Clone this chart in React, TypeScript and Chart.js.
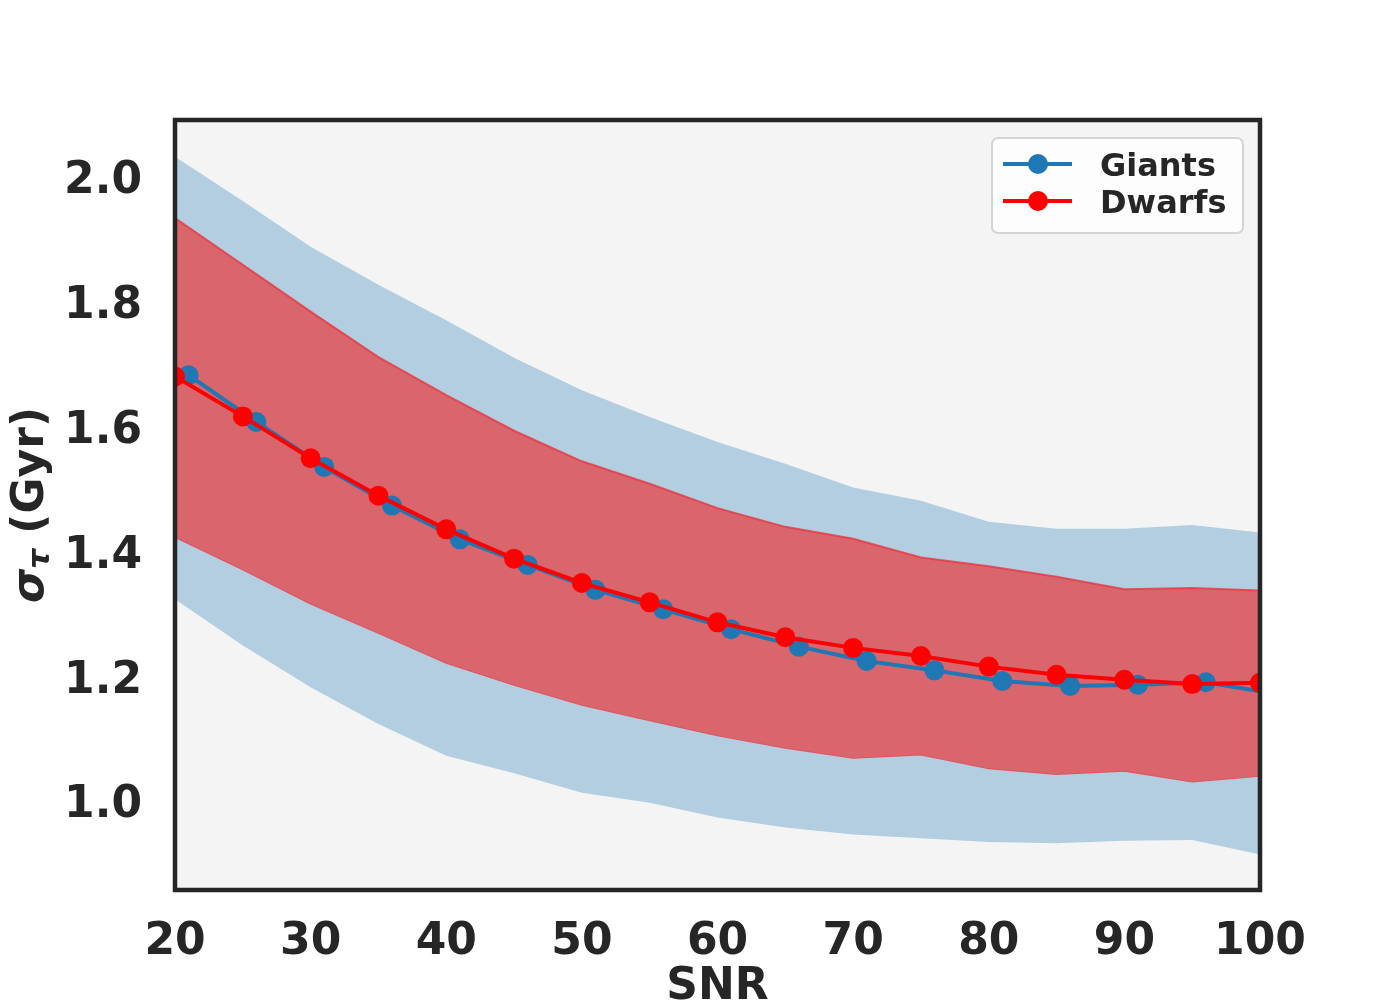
import React, { useRef, useEffect } from 'react';
import Chart from 'chart.js/auto';

// SNR grid of the bands and the dwarfs curve; giants points sit one unit to the right
const snr = [20, 25, 30, 35, 40, 45, 50, 55, 60, 65, 70, 75, 80, 85, 90, 95, 100];
const giantsSnr = [21, 26, 31, 36, 41, 46, 51, 56, 61, 66, 71, 76, 81, 86, 91, 96, 101];

const giantsMean = [1.684, 1.609, 1.537, 1.475, 1.421, 1.38, 1.34, 1.309, 1.277, 1.249, 1.226, 1.211, 1.194, 1.186, 1.188, 1.192, 1.174];
const giantsUpper = [2.034, 1.963, 1.89, 1.829, 1.772, 1.712, 1.66, 1.617, 1.577, 1.542, 1.504, 1.483, 1.449, 1.438, 1.438, 1.444, 1.432];
const giantsLower = [1.325, 1.251, 1.184, 1.125, 1.074, 1.046, 1.015, 0.999, 0.975, 0.959, 0.948, 0.942, 0.936, 0.934, 0.938, 0.939, 0.916];

const dwarfsMean = [1.682, 1.618, 1.551, 1.491, 1.437, 1.39, 1.351, 1.32, 1.288, 1.264, 1.247, 1.234, 1.217, 1.204, 1.196, 1.189, 1.191];
const dwarfsUpper = [1.936, 1.861, 1.786, 1.713, 1.652, 1.595, 1.546, 1.51, 1.471, 1.441, 1.422, 1.392, 1.378, 1.361, 1.341, 1.343, 1.339];
const dwarfsLower = [1.425, 1.373, 1.318, 1.271, 1.223, 1.188, 1.156, 1.131, 1.107, 1.087, 1.071, 1.076, 1.054, 1.045, 1.05, 1.033, 1.042];

const xTicks = [20, 30, 40, 50, 60, 70, 80, 90, 100];
const yTicks = [1.0, 1.2, 1.4, 1.6, 1.8, 2.0];
const legendLabels = ['Giants', 'Dwarfs'];

const FONT = 'DejaVu Sans';
const INK = '#262626';
const BLUE = '#1f77b4';
const RED = '#ff0000';

const pts = (xs: number[], ys: number[]) => xs.map((x, i) => ({ x, y: ys[i] }));

const plotBackground = {
    id: 'plotBackground',
    beforeDraw(chart: any) {
        const { ctx, chartArea: a } = chart;
        ctx.save();
        ctx.fillStyle = '#f4f4f4';
        ctx.fillRect(a.left, a.top, a.right - a.left, a.bottom - a.top);
        ctx.restore();
    },
};

const frameAndText = {
    id: 'frameAndText',
    afterDraw(chart: any) {
        const { ctx, chartArea: a } = chart;
        ctx.save();

        // axes frame
        ctx.strokeStyle = INK;
        ctx.lineWidth = 4.5;
        ctx.strokeRect(a.left, a.top, a.right - a.left, a.bottom - a.top);

        // legend
        const bx = 992, by = 138, bw = 251, bh = 95;
        ctx.beginPath();
        ctx.roundRect(bx, by, bw, bh, 6);
        ctx.fillStyle = 'rgba(255,255,255,0.8)';
        ctx.fill();
        ctx.strokeStyle = '#d4d4d4';
        ctx.lineWidth = 2;
        ctx.stroke();
        const colors = [BLUE, RED];
        const rows = [164, 201];
        legendLabels.forEach((label, i) => {
            const y = rows[i];
            ctx.strokeStyle = colors[i];
            ctx.fillStyle = colors[i];
            ctx.lineWidth = 4;
            ctx.beginPath();
            ctx.moveTo(1003, y);
            ctx.lineTo(1072, y);
            ctx.stroke();
            ctx.beginPath();
            ctx.arc(1038, y, 10, 0, Math.PI * 2);
            ctx.fill();
            ctx.fillStyle = INK;
            ctx.font = `bold 32px "${FONT}"`;
            ctx.textAlign = 'left';
            ctx.textBaseline = 'alphabetic';
            ctx.fillText(label, 1100, y + 12);
        });

        // x title
        ctx.fillStyle = INK;
        ctx.font = `bold 44px "${FONT}"`;
        ctx.textAlign = 'center';
        ctx.textBaseline = 'alphabetic';
        ctx.fillText('SNR', (a.left + a.right) / 2, 999);

        // y title: sigma with tau subscript, then (Gyr)
        ctx.translate(43, 505);
        ctx.rotate(-Math.PI / 2);
        ctx.textAlign = 'left';
        const fSigma = `italic bold 44px "${FONT}"`;
        const fTau = `italic bold 31px "${FONT}"`;
        const fRest = `bold 44px "${FONT}"`;
        ctx.font = fSigma;
        const wS = ctx.measureText('σ').width;
        ctx.font = fTau;
        const wT = ctx.measureText('τ').width;
        ctx.font = fRest;
        const rest = ' (Gyr)';
        const wR = ctx.measureText(rest).width;
        let x = -(wS + wT + wR) / 2;
        ctx.font = fSigma;
        ctx.fillText('σ', x, 0);
        x += wS;
        ctx.font = fTau;
        ctx.fillText('τ', x, 6);
        x += wT;
        ctx.font = fRest;
        ctx.fillText(rest, x, 0);

        ctx.restore();
    },
};

const App = () => {
    const chartRef = useRef<HTMLCanvasElement>(null);

    useEffect(() => {
        if (!chartRef.current) return;
        Chart.defaults.font.family = FONT;
        Chart.defaults.color = INK;

        const bandLine = 'rgba(232,55,65,0.8)';

        const chart = new Chart(chartRef.current, {
            type: 'line',
            data: {
                datasets: [
                    {
                        label: 'Dwarfs',
                        data: pts(snr, dwarfsMean),
                        borderColor: RED,
                        backgroundColor: RED,
                        pointBackgroundColor: RED,
                        borderWidth: 4,
                        pointRadius: 10,
                        pointBorderWidth: 0,
                        fill: false,
                        order: 0,
                    },
                    {
                        label: 'Giants',
                        data: pts(giantsSnr, giantsMean),
                        borderColor: BLUE,
                        backgroundColor: BLUE,
                        pointBackgroundColor: BLUE,
                        borderWidth: 4,
                        pointRadius: 10,
                        pointBorderWidth: 0,
                        fill: false,
                        order: 1,
                    },
                    {
                        label: 'Dwarfs upper',
                        data: pts(snr, dwarfsUpper),
                        borderColor: bandLine,
                        backgroundColor: '#d9656d',
                        borderWidth: 2,
                        pointRadius: 0,
                        fill: '+1',
                        order: 2,
                    },
                    {
                        label: 'Dwarfs lower',
                        data: pts(snr, dwarfsLower),
                        borderColor: bandLine,
                        borderWidth: 2,
                        pointRadius: 0,
                        fill: false,
                        order: 2,
                    },
                    {
                        label: 'Giants upper',
                        data: pts(snr, giantsUpper),
                        borderColor: 'transparent',
                        backgroundColor: '#b4cee1',
                        borderWidth: 0,
                        pointRadius: 0,
                        fill: '+1',
                        order: 3,
                    },
                    {
                        label: 'Giants lower',
                        data: pts(snr, giantsLower),
                        borderColor: 'transparent',
                        borderWidth: 0,
                        pointRadius: 0,
                        fill: false,
                        order: 3,
                    },
                ],
            },
            options: {
                animation: false,
                responsive: true,
                maintainAspectRatio: false,
                events: [],
                layout: { padding: { top: 120, right: 140, left: 0, bottom: 0 } },
                elements: { line: { tension: 0 } },
                plugins: {
                    legend: { display: false },
                    tooltip: { enabled: false },
                },
                scales: {
                    x: {
                        type: 'linear',
                        min: 20,
                        max: 100,
                        grid: { display: false, drawTicks: false },
                        border: { display: false },
                        afterBuildTicks: (s: any) => {
                            s.ticks = xTicks.map((v) => ({ value: v }));
                        },
                        afterFit: (s: any) => {
                            s.height = 110;
                        },
                        ticks: {
                            autoSkip: false,
                            maxRotation: 0,
                            padding: 26,
                            color: INK,
                            font: { size: 44, weight: 'bold' },
                            callback: (v: any) => String(v),
                        },
                    },
                    y: {
                        type: 'linear',
                        min: 0.859,
                        max: 2.093,
                        grid: { display: false, drawTicks: false },
                        border: { display: false },
                        afterBuildTicks: (s: any) => {
                            s.ticks = yTicks.map((v) => ({ value: v }));
                        },
                        afterFit: (s: any) => {
                            s.width = 175;
                        },
                        ticks: {
                            padding: 33,
                            labelOffset: 4,
                            color: INK,
                            font: { size: 44, weight: 'bold' },
                            callback: (v: any) => Number(v).toFixed(1),
                        },
                    },
                },
            },
            plugins: [plotBackground, frameAndText],
        });
        return () => chart.destroy();
    }, []);

    return (
        <div style={{ position: 'absolute', left: 0, top: 0, width: 1400, height: 1000, background: '#ffffff' }}>
            <canvas ref={chartRef} />
        </div>
    );
};

export default App;
